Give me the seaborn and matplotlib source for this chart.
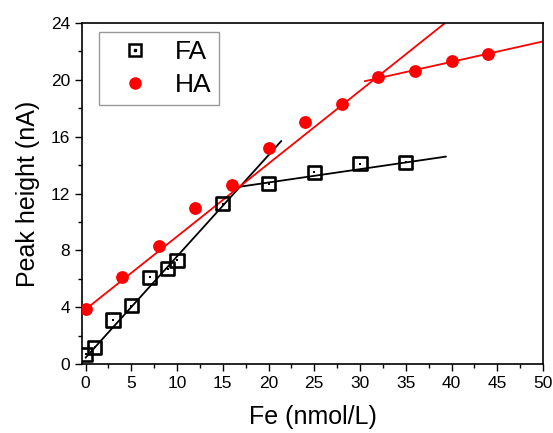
import matplotlib
matplotlib.use("Agg")
import matplotlib.pyplot as plt
from matplotlib.lines import Line2D
from matplotlib.legend_handler import HandlerTuple
from matplotlib.ticker import MultipleLocator
import pandas as pd
import seaborn as sns

# measured points
fa_x = [0, 1, 3, 5, 7, 9, 10, 15, 20, 25, 30, 35]
fa_y = [0.7, 1.2, 3.1, 4.1, 6.1, 6.7, 7.3, 11.3, 12.7, 13.5, 14.1, 14.2]
ha_x = [0, 4, 8, 12, 16, 20, 24, 28, 32, 36, 40, 44]
ha_y = [3.9, 6.1, 8.3, 11.0, 12.6, 15.2, 17.0, 18.3, 20.2, 20.6, 21.3, 21.8]

# fitted line segments (end points)
fa_fit1_x = [0, 21.4]
fa_fit1_y = [0.45, 15.7]
fa_fit2_x = [16, 39.4]
fa_fit2_y = [12.4, 14.6]
ha_fit1_x = [0, 39.2]
ha_fit1_y = [3.85, 23.95]
ha_fit2_x = [30.5, 50]
ha_fit2_y = [19.9, 22.7]

sns.set_style("ticks")
plt.rcParams['font.family'] = ['Liberation Sans', 'DejaVu Sans']
plt.rcParams['text.color'] = 'black'
plt.rcParams['axes.labelcolor'] = 'black'
plt.rcParams['xtick.color'] = 'black'
plt.rcParams['ytick.color'] = 'black'

fa = pd.DataFrame({'x': fa_x, 'y': fa_y})
ha = pd.DataFrame({'x': ha_x, 'y': ha_y})

fig = plt.figure(figsize=(5.53, 4.33), dpi=100)
ax = fig.add_axes([0.148, 0.159, 0.834, 0.788])

for fx, fy in [(fa_fit1_x, fa_fit1_y), (fa_fit2_x, fa_fit2_y)]:
    sns.lineplot(x=fx, y=fy, color='black', lw=1.3, ax=ax)
for hx, hy in [(ha_fit1_x, ha_fit1_y), (ha_fit2_x, ha_fit2_y)]:
    sns.lineplot(x=hx, y=hy, color='#ff0000', lw=1.3, ax=ax)

sns.scatterplot(data=fa, x='x', y='y', marker='s', s=90, facecolor='none',
                edgecolor='black', linewidth=1.9, ax=ax, zorder=3)
sns.scatterplot(data=fa, x='x', y='y', marker='s', s=4, color='black',
                linewidth=0, ax=ax, zorder=4)
sns.scatterplot(data=ha, x='x', y='y', marker='o', s=85, color='#ff0000',
                linewidth=0, ax=ax, zorder=3)

ax.set_xlim(-0.4, 50)
ax.set_ylim(0, 24)
ax.xaxis.set_major_locator(MultipleLocator(5))
ax.xaxis.set_minor_locator(MultipleLocator(2.5))
ax.yaxis.set_major_locator(MultipleLocator(4))
ax.yaxis.set_minor_locator(MultipleLocator(2))
ax.tick_params(which='major', direction='out', length=5, width=1, labelsize=12.5)
ax.tick_params(which='minor', direction='out', length=3, width=1)
for sp in ax.spines.values():
    sp.set_visible(True)
    sp.set_linewidth(1.2)
    sp.set_color('black')

ax.set_xlabel('Fe (nmol/L)', fontsize=18, labelpad=10)
ax.set_ylabel('Peak height (nA)', fontsize=18, labelpad=8)

fa_h = (Line2D([], [], ls='none', marker='s', ms=8, mfc='none', mec='black', mew=1.8),
        Line2D([], [], ls='none', marker='s', ms=2, color='black'))
ha_h = Line2D([], [], ls='none', marker='o', ms=8, color='#ff0000')
leg = ax.legend([fa_h, ha_h], ['FA', 'HA'], loc='upper left', fontsize=19,
                handler_map={tuple: HandlerTuple(ndivide=1)},
                fancybox=False, edgecolor='#999999', framealpha=1,
                borderpad=0.3, handlelength=2.1, handletextpad=0.45,
                labelspacing=0.35, borderaxespad=0,
                bbox_to_anchor=(0.038, 0.973))
leg.get_frame().set_linewidth(1.0)

fig.savefig('out.png', dpi=100)
